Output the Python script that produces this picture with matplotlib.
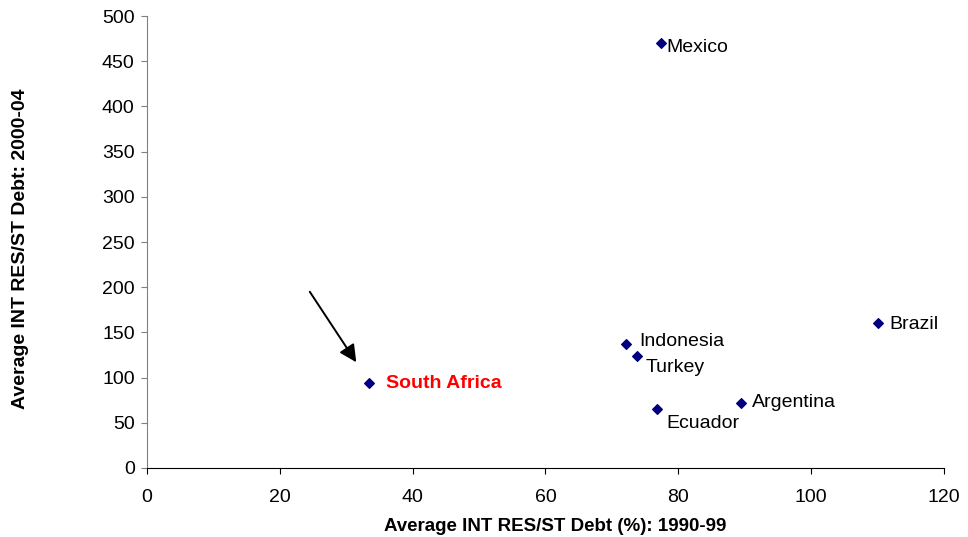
import matplotlib
matplotlib.use("Agg")
import matplotlib.pyplot as plt

plt.rcParams['font.family'] = ['Liberation Sans', 'DejaVu Sans']

# values
countries = ['Mexico', 'Brazil', 'Indonesia', 'Turkey', 'South Africa', 'Ecuador', 'Argentina']
res_1990s = [77.4, 110.1, 72.1, 73.8, 33.4, 76.8, 89.5]
res_2000s = [470, 160, 137, 124, 94, 65, 72]
x_ticks = [0, 20, 40, 60, 80, 100, 120]
y_ticks = [0, 50, 100, 150, 200, 250, 300, 350, 400, 450, 500]

# label offsets in points (dx, dy) relative to the marker
offsets = {
    'Mexico': (4, -3),
    'Brazil': (8, -1),
    'Indonesia': (10, 2),
    'Turkey': (6, -8),
    'South Africa': (12, 0),
    'Ecuador': (7, -10),
    'Argentina': (8, 0),
}

fig = plt.figure(figsize=(9.68, 5.37), dpi=100)
ax = fig.add_axes([0.152, 0.1285, 0.823, 0.8415])

ax.scatter(res_1990s, res_2000s, marker='D', s=24, color='#000080', zorder=3)

for name, x, y in zip(countries, res_1990s, res_2000s):
    dx, dy = offsets[name]
    if name == 'South Africa':
        ax.annotate(name, (x, y), xytext=(dx, dy), textcoords='offset points',
                    ha='left', va='center', fontsize=14, color='#ff0000', fontweight='bold')
    else:
        ax.annotate(name, (x, y), xytext=(dx, dy), textcoords='offset points',
                    ha='left', va='center', fontsize=14, color='black')

# arrow pointing at South Africa
ax.annotate('', xy=(31.5, 117), xytext=(24.5, 195),
            arrowprops=dict(arrowstyle='-|>', color='black', lw=1.4,
                            mutation_scale=26, shrinkA=0, shrinkB=0))

ax.set_xlim(0, 120)
ax.set_ylim(0, 500)
ax.set_xticks(x_ticks)
ax.set_yticks(y_ticks)
ax.tick_params(axis='both', direction='out', length=4, labelsize=14)
ax.tick_params(axis='x', pad=11)
ax.tick_params(axis='y', color='#808080', pad=5)

for side in ['top', 'right']:
    ax.spines[side].set_visible(False)
ax.spines['left'].set_color('#808080')
ax.spines['bottom'].set_color('black')

ax.set_xlabel('Average INT RES/ST Debt (%): 1990-99', fontsize=13.5, fontweight='bold')
ax.set_ylabel('Average INT RES/ST Debt: 2000-04', fontsize=14, fontweight='bold')
ax.xaxis.set_label_coords(0.512, -0.111)
ax.yaxis.set_label_coords(-0.148, 0.485)

fig.savefig('out.png', dpi=100)
